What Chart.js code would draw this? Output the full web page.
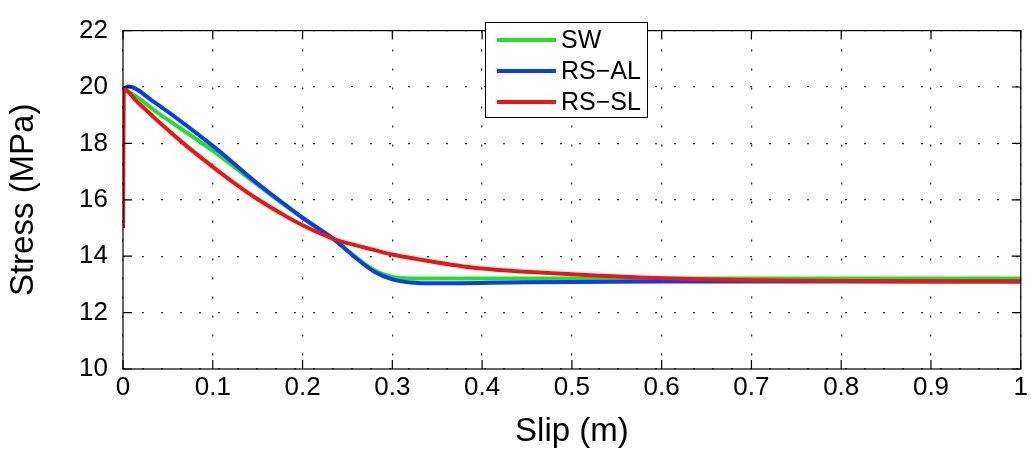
<!DOCTYPE html>
<html>
<head>
<meta charset="utf-8">
<script src="https://cdn.jsdelivr.net/npm/chart.js@4"></script>
<style>
  html, body { margin: 0; padding: 0; background: #fff; }
  #wrap { width: 1031px; height: 456px; position: relative; }
</style>
</head>
<body>
<div id="wrap"><canvas id="chart"></canvas></div>
<script>
// slip (m) and stress (MPa)
const swSlip   = [0, 0.015, 0.0335, 0.1, 0.151, 0.2, 0.236, 0.258, 0.28, 0.3, 0.32, 0.5, 0.8, 1.0];
const swStress = [19.92, 19.66, 19.21, 17.74, 16.5, 15.35, 14.56, 14.0, 13.5, 13.26, 13.21, 13.21, 13.21, 13.21];

const alSlip   = [0, 0.006, 0.0335, 0.1, 0.151, 0.2, 0.236, 0.258, 0.28, 0.3, 0.32, 0.35, 0.45, 0.6, 1.0];
const alStress = [19.92, 20.02, 19.49, 17.91, 16.55, 15.37, 14.58, 13.97, 13.45, 13.18, 13.07, 13.04, 13.08, 13.1, 13.1];

const slSlip   = [0, 0.001, 0.015, 0.0335, 0.052, 0.0703, 0.1, 0.1255, 0.151, 0.1807, 0.2, 0.236, 0.27, 0.3, 0.35, 0.4, 0.5, 0.6, 0.7, 0.8, 1.0];
const slStress = [15.0, 19.92, 19.5, 18.95, 18.42, 17.92, 17.17, 16.56, 16.0, 15.43, 15.1, 14.6, 14.3, 14.06, 13.78, 13.56, 13.36, 13.22, 13.15, 13.12, 13.1];

const seriesNames = ['SW', 'RS\u2212AL', 'RS\u2212SL'];
const xTickLabels = ['0', '0.1', '0.2', '0.3', '0.4', '0.5', '0.6', '0.7', '0.8', '0.9', '1'];
const yTickLabels = ['10', '12', '14', '16', '18', '20', '22'];

const FONT = "'Liberation Sans', Arial, sans-serif";

function pts(xs, ys) {
    return xs.map((x, i) => ({ x: x, y: ys[i] }));
}

// box, inward ticks and legend drawn like the matlab figure
const boxPlugin = {
    id: 'box',
    afterDraw(chart) {
        const ctx = chart.ctx;
        const a = chart.chartArea;
        const xs = chart.scales.x, ys = chart.scales.y;
        ctx.save();
        ctx.strokeStyle = '#000';
        ctx.lineWidth = 1.2;
        ctx.strokeRect(a.left, a.top, a.right - a.left, a.bottom - a.top);
        ctx.beginPath();
        xs.ticks.forEach(t => {
            const px = xs.getPixelForValue(t.value);
            ctx.moveTo(px, a.bottom); ctx.lineTo(px, a.bottom - 9);
            ctx.moveTo(px, a.top); ctx.lineTo(px, a.top + 9);
        });
        ys.ticks.forEach(t => {
            const py = ys.getPixelForValue(t.value);
            ctx.moveTo(a.left, py); ctx.lineTo(a.left + 9, py);
            ctx.moveTo(a.right, py); ctx.lineTo(a.right - 9, py);
        });
        ctx.stroke();

        // legend
        const lx = 485, ly = 22, lw = 162, lh = 95;
        ctx.fillStyle = '#fff';
        ctx.fillRect(lx, ly, lw, lh);
        ctx.lineWidth = 1;
        ctx.strokeRect(lx + 0.5, ly + 0.5, lw, lh);
        ctx.font = '25px ' + FONT;
        ctx.textBaseline = 'middle';
        chart.data.datasets.forEach((ds, i) => {
            const y = ly + 18 + i * 31;
            ctx.strokeStyle = ds.borderColor;
            ctx.lineWidth = 4;
            ctx.beginPath();
            ctx.moveTo(lx + 12, y); ctx.lineTo(lx + 71, y);
            ctx.stroke();
            ctx.fillStyle = '#000';
            ctx.fillText(ds.label, lx + 76, y + 1);
        });
        ctx.restore();
    }
};

const ctx = document.getElementById('chart').getContext('2d');
new Chart(ctx, {
    type: 'line',
    data: {
        datasets: [
            { label: seriesNames[0], data: pts(swSlip, swStress), borderColor: '#22e022', order: 3 },
            { label: seriesNames[1], data: pts(alSlip, alStress), borderColor: '#0a3cf0', order: 2 },
            { label: seriesNames[2], data: pts(slSlip, slStress), borderColor: '#f01414', order: 1 }
        ]
    },
    options: {
        responsive: true,
        maintainAspectRatio: false,
        animation: false,
        layout: { padding: { top: 15, right: 2, left: 0, bottom: 0 } },
        elements: {
            line: { borderWidth: 4, cubicInterpolationMode: 'monotone', fill: false },
            point: { radius: 0 }
        },
        plugins: {
            legend: { display: false },
            tooltip: { enabled: false }
        },
        scales: {
            x: {
                type: 'linear',
                min: 0,
                max: 1,
                afterFit(scale) { scale.height = 87; },
                ticks: {
                    stepSize: 0.1,
                    color: '#000',
                    padding: 3,
                    maxRotation: 0,
                    font: { family: FONT, size: 26 },
                    callback: (v, i) => xTickLabels[i]
                },
                grid: {
                    color: '#333',
                    lineWidth: 1.3,
                    drawTicks: false
                },
                border: { display: false, dash: [2, 17] },
                title: {
                    display: true,
                    text: 'Slip (m)',
                    color: '#000',
                    padding: { top: 2 },
                    font: { family: FONT, size: 33 }
                }
            },
            y: {
                min: 10,
                max: 22,
                afterFit(scale) { scale.width = 123; },
                ticks: {
                    stepSize: 2,
                    color: '#000',
                    padding: 15,
                    font: { family: FONT, size: 26 },
                    callback: (v, i) => yTickLabels[i]
                },
                grid: {
                    color: '#333',
                    lineWidth: 1.3,
                    drawTicks: false
                },
                border: { display: false, dash: [2, 17] },
                title: {
                    display: true,
                    text: 'Stress (MPa)',
                    color: '#000',
                    padding: { bottom: 4 },
                    font: { family: FONT, size: 33 }
                }
            }
        }
    },
    plugins: [boxPlugin]
});
</script>
</body>
</html>
